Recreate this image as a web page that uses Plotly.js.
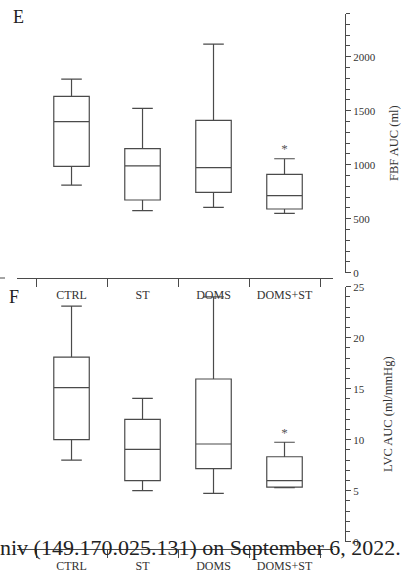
<!DOCTYPE html>
<html>
<head>
<meta charset="utf-8">
<script src="https://cdn.plot.ly/plotly-3.0.1.min.js"></script>
<style>html,body{margin:0;padding:0;background:#fff;}#chart{width:401px;height:572px;}</style>
</head>
<body>
<div id="chart"></div>
<script>
// Categories
var groups = ["CTRL", "ST", "DOMS", "DOMS+ST"];

// Panel E: FBF AUC (ml)
var fbfLow    = [810, 575, 605, 550];
var fbfQ1     = [985, 673, 744, 590];
var fbfMedian = [1398, 990, 972, 713];
var fbfQ3     = [1633, 1148, 1411, 911];
var fbfHigh   = [1793, 1522, 2117, 1055];

// Panel F: LVC AUC (ml/mmHg)
var lvcLow    = [8.0, 5.0, 4.74, 5.3];
var lvcQ1     = [10.0, 5.98, 7.16, 5.35];
var lvcMedian = [15.1, 9.06, 9.58, 5.98];
var lvcQ3     = [18.1, 12.0, 15.95, 8.33];
var lvcHigh   = [23.1, 14.06, 24.0, 9.75];

// Significance markers
var sigGroup = ["DOMS+ST"];
var sigFbf = [1135];
var sigLvc = [10.6];

var serif = "Liberation Serif, Times New Roman, serif";
var lineCol = "#4a4a4a";

function boxTrace(q1, med, q3, lo, hi, xa, ya) {
  return {
    type: "box", x: groups, q1: q1, median: med, q3: q3,
    lowerfence: lo, upperfence: hi,
    xaxis: xa, yaxis: ya, width: 0.5, whiskerwidth: 0.58,
    line: {color: lineCol, width: 1.2}, fillcolor: "rgba(255,255,255,0)",
    boxpoints: false, showlegend: false, hoverinfo: "skip"
  };
}

var data = [
  boxTrace(fbfQ1, fbfMedian, fbfQ3, fbfLow, fbfHigh, "x", "y"),
  boxTrace(lvcQ1, lvcMedian, lvcQ3, lvcLow, lvcHigh, "x2", "y2"),
  {type: "scatter", mode: "text", x: sigGroup, y: sigFbf, text: ["*"], xaxis: "x", yaxis: "y",
   textfont: {family: serif, size: 13, color: "#555"}, showlegend: false, hoverinfo: "skip"},
  {type: "scatter", mode: "text", x: sigGroup, y: sigLvc, text: ["*"], xaxis: "x2", yaxis: "y2",
   textfont: {family: serif, size: 13, color: "#555"}, showlegend: false, hoverinfo: "skip"}
];

var W = 401, H = 572;
var xDom = [17 / W, 333 / W];
var xRange = [-0.768, 3.683];

function xAxis(posPx) {
  return {
    domain: xDom, range: xRange, anchor: "free", position: 1 - posPx / H,
    type: "category", showline: true, linecolor: lineCol, linewidth: 1,
    ticks: "outside", ticklen: 8, tickcolor: lineCol, tickson: "boundaries",
    ticklabelstandoff: 6,
    tickfont: {family: serif, size: 12, color: "#333"},
    showgrid: false, zeroline: false, fixedrange: true
  };
}

function yAxis(dom, range, dtick, mdtick, title) {
  return {
    domain: dom, range: range, anchor: "free", position: 345 / W, side: "right",
    showline: true, linecolor: lineCol, linewidth: 1,
    ticks: "outside", ticklen: 5, tickcolor: lineCol, dtick: dtick, tick0: 0,
    minor: {dtick: mdtick, ticks: "outside", ticklen: 4, tickcolor: lineCol, showgrid: false},
    tickfont: {family: serif, size: 11, color: "#333"},
    showgrid: false, zeroline: false, fixedrange: true,
    title: {text: title, font: {family: serif, size: 12.5, color: "#333"}, standoff: 19}
  };
}

var layout = {
  width: W, height: H,
  margin: {l: 0, r: 0, t: 0, b: 0},
  paper_bgcolor: "#fff", plot_bgcolor: "rgba(0,0,0,0)",
  showlegend: false,
  xaxis: xAxis(278),
  xaxis2: xAxis(549),
  yaxis: yAxis([1 - 272.7 / H, 1 - 13.5 / H], [0, 2400], 500, 100, "FBF AUC (ml)"),
  yaxis2: yAxis([1 - 541.7 / H, 1 - 286.7 / H], [0, 25], 5, 1, "LVC AUC (ml/mmHg)"),
  shapes: [
    {type: "line", xref: "paper", yref: "paper", x0: 0, x1: 5 / W, y0: 1 - 278 / H, y1: 1 - 278 / H,
     line: {color: lineCol, width: 1}}
  ],
  annotations: [
    {text: "E", xref: "paper", yref: "paper", x: 11 / W, y: 1 - 17 / H, xanchor: "left", yanchor: "middle",
     showarrow: false, font: {family: serif, size: 18, color: "#222"}},
    {text: "F", xref: "paper", yref: "paper", x: 7 / W, y: 1 - 297 / H, xanchor: "left", yanchor: "middle",
     showarrow: false, font: {family: serif, size: 18, color: "#222"}},
    {text: "niv (149.170.025.131) on September 6, 2022.", xref: "paper", yref: "paper",
     x: -2 / W, y: 1 - 547 / H, xanchor: "left", yanchor: "middle",
     showarrow: false, font: {family: serif, size: 22, color: "#222"}}
  ]
};

Plotly.newPlot("chart", data, layout, {staticPlot: true, displayModeBar: false});
</script>
</body>
</html>
